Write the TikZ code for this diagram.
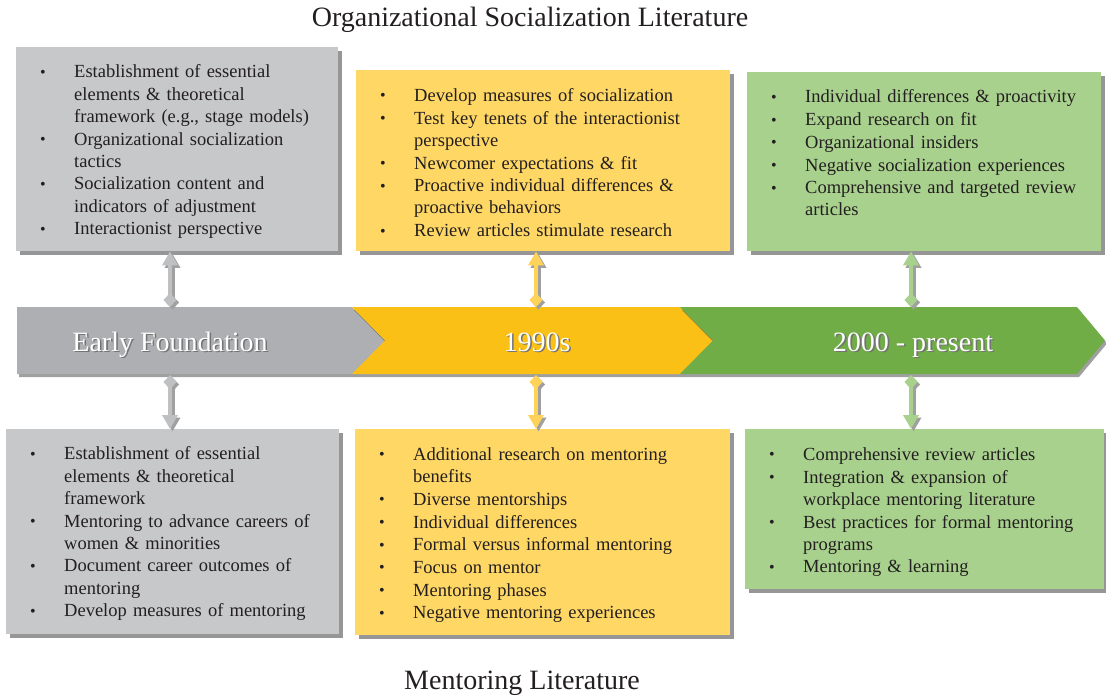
\documentclass[tikz,border=0pt]{standalone}
\usepackage{fontspec}
\setmainfont{Liberation Serif}
\usetikzlibrary{arrows.meta,shadows}

\definecolor{boxgrey}{RGB}{199,200,202}
\definecolor{boxyellow}{RGB}{255,215,100}
\definecolor{boxgreen}{RGB}{169,209,142}
\definecolor{bandgrey}{RGB}{173,175,178}
\definecolor{bandyellow}{RGB}{251,192,21}
\definecolor{bandgreen}{RGB}{112,173,71}
\definecolor{ink}{RGB}{35,31,32}
\definecolor{linkgrey}{RGB}{191,192,194}
\definecolor{linkyellow}{RGB}{255,211,90}
\definecolor{linkgreen}{RGB}{169,209,142}
\definecolor{shade}{RGB}{120,120,120}

% one bulleted entry with a hanging indent
\newcommand{\bitem}[1]{\par\noindent\hangindent=34pt\hangafter=1%
  \makebox[34pt][l]{\raisebox{0.5pt}{\fontsize{16}{16}\selectfont\textbullet}}\strut#1\par}

% double-ended link: shadow first, then the coloured link
\newcommand{\linkdraw}[3]{%
  \draw[link, shade!70, transform canvas={shift={(2.5pt,-2.5pt)}}] (#2) -- (#3);
  \draw[link, #1] (#2) -- (#3);}

% white band label with a soft dark shadow
\newcommand{\bandlabel}[3]{%
  \node[bandtext, text=black!55] at ([shift={(1.6pt,-1.6pt)}]#2) {#3};
  \node[bandtext, text=white] (#1) at (#2) {#3};}

\tikzset{
  panel/.style={rectangle, draw=none, inner sep=0pt, anchor=north west,
    drop shadow={shadow xshift=3.5pt, shadow yshift=-3.5pt, opacity=0.55, fill=black!75}},
  itemlist/.style={anchor=north west, inner sep=0pt, align=left, text=ink,
    font=\fontsize{18.5}{22.2}\selectfont\setlength{\parskip}{0.5pt}},
  link/.style={line width=4.5pt,
    {Diamond[width=13pt,length=14pt]}-{Triangle[width=15pt,length=14pt]}},
  band/.style={drop shadow={shadow xshift=2pt, shadow yshift=-3pt, opacity=0.5, fill=black!75}},
  bandtext/.style={inner sep=0pt, anchor=base, font=\fontsize{28}{32}\selectfont},
  heading/.style={inner sep=0pt, anchor=base, text=ink, font=\fontsize{28}{32}\selectfont},
}

\begin{document}
\begin{tikzpicture}[x=1pt, y=-1pt]
\useasboundingbox (0,0) rectangle (1106,696);

% headings
\node[heading] (toptitle) at (530,27) {Organizational Socialization Literature};
\node[heading] (bottitle) at (522,689) {Mentoring Literature};

% timeline band
\fill[bandgrey, band] (17,307) -- (352,307) -- (385,340.5) -- (352,374) -- (17,374) -- cycle;
\fill[bandyellow, band] (352,307) -- (680,307) -- (713,340.5) -- (680,374) -- (352,374) -- (385,340.5) -- cycle;
\fill[bandgreen, band] (680,307) -- (1077,307) -- (1105,340.5) -- (1077,374) -- (680,374) -- (713,340.5) -- cycle;

\bandlabel{early}{170,351}{Early Foundation}
\bandlabel{nineties}{537,351}{1990s}
\bandlabel{present}{913,351}{2000 - present}

% attachment points on the band
\coordinate (gN) at (170,307);
\coordinate (gS) at (170,375);
\coordinate (yN) at (536,307);
\coordinate (yS) at (536,375);
\coordinate (nN) at (911,307);
\coordinate (nS) at (911,375);

% socialization panels
\node[panel, fill=boxgrey, minimum width=322pt, minimum height=204pt] (sg) at (16,47) {};
\node[panel, fill=boxyellow, minimum width=374pt, minimum height=181pt] (sy) at (356,70) {};
\node[panel, fill=boxgreen, minimum width=354pt, minimum height=179pt] (sn) at (747,72) {};

% mentoring panels
\node[panel, fill=boxgrey, minimum width=333pt, minimum height=205pt] (mg) at (6,429) {};
\node[panel, fill=boxyellow, minimum width=375pt, minimum height=206pt] (my) at (355,429) {};
\node[panel, fill=boxgreen, minimum width=359pt, minimum height=160pt] (mn) at (745,429) {};

% panel texts
\node[itemlist, text width=300pt] (sgt) at ([xshift=24pt, yshift=-8pt]sg.north west) {%
  \bitem{Establishment of essential\newline elements \& theoretical\newline framework (e.g., stage models)}
  \bitem{Organizational socialization\newline tactics}
  \bitem{Socialization content and\newline indicators of adjustment}
  \bitem{Interactionist perspective}};

\node[itemlist, text width=345pt] (syt) at ([xshift=24pt, yshift=-8.5pt]sy.north west) {%
  \bitem{Develop measures of socialization}
  \bitem{Test key tenets of the interactionist\newline perspective}
  \bitem{Newcomer expectations \& fit}
  \bitem{Proactive individual differences \&\newline proactive behaviors}
  \bitem{Review articles stimulate research}};

\node[itemlist, text width=325pt] (snt) at ([xshift=24pt, yshift=-8pt]sn.north west) {%
  \bitem{Individual differences \& proactivity}
  \bitem{Expand research on fit}
  \bitem{Organizational insiders}
  \bitem{Negative socialization experiences}
  \bitem{Comprehensive and targeted review\newline articles}};

\node[itemlist, text width=305pt] (mgt) at ([xshift=24pt, yshift=-8pt]mg.north west) {%
  \bitem{Establishment of essential\newline elements \& theoretical\newline framework}
  \bitem{Mentoring to advance careers of\newline women \& minorities}
  \bitem{Document career outcomes of\newline mentoring}
  \bitem{Develop measures of mentoring}};

\node[itemlist, text width=345pt] (myt) at ([xshift=24pt, yshift=-8.5pt]my.north west) {%
  \bitem{Additional research on mentoring\newline benefits}
  \bitem{Diverse mentorships}
  \bitem{Individual differences}
  \bitem{Formal versus informal mentoring}
  \bitem{Focus on mentor}
  \bitem{Mentoring phases}
  \bitem{Negative mentoring experiences}};

\node[itemlist, text width=330pt] (mnt) at ([xshift=24pt, yshift=-8.5pt]mn.north west) {%
  \bitem{Comprehensive review articles}
  \bitem{Integration \& expansion of\newline workplace mentoring literature}
  \bitem{Best practices for formal mentoring\newline programs}
  \bitem{Mentoring \& learning}};

% links between band and panels
\linkdraw{linkgrey}{gN}{sg.south -| gN}
\linkdraw{linkgrey}{gS}{mg.north -| gS}
\linkdraw{linkyellow}{yN}{sy.south -| yN}
\linkdraw{linkyellow}{yS}{my.north -| yS}
\linkdraw{linkgreen}{nN}{sn.south -| nN}
\linkdraw{linkgreen}{nS}{mn.north -| nS}
\end{tikzpicture}
\end{document}
